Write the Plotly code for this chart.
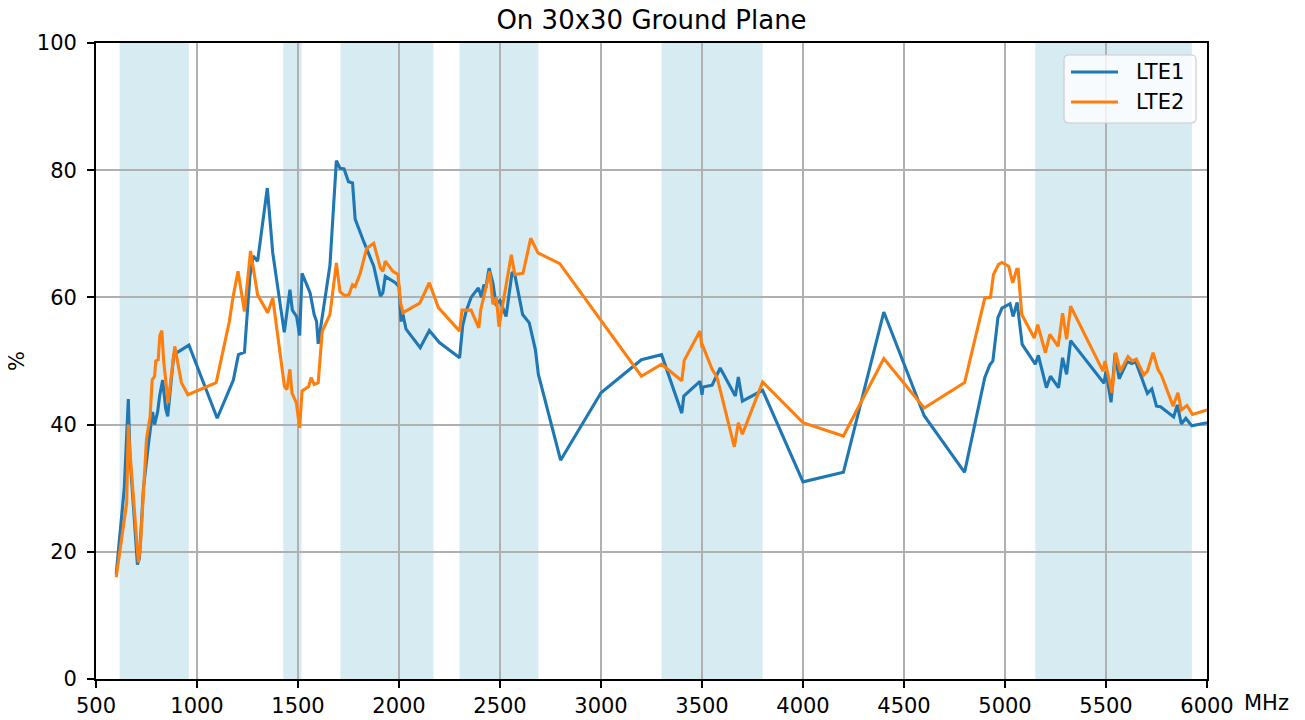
import plotly.graph_objects as go

# ---------------- data ----------------
lte1_freq = [600, 640, 660, 668, 690, 705, 715, 735, 760, 780, 790, 805, 815, 830, 845, 855, 885, 960,
             1100, 1180, 1205, 1235, 1262, 1278, 1300, 1348, 1375, 1432, 1460, 1472, 1493, 1508, 1520,
             1560, 1580, 1592, 1600, 1625, 1658, 1690, 1708, 1728, 1750, 1770, 1783, 1825, 1875, 1908,
             1920, 1932, 1982, 2000, 2010, 2015, 2035, 2105, 2150, 2200, 2300, 2315, 2332, 2357, 2393,
             2408, 2420, 2430, 2446, 2465, 2480, 2500, 2530, 2560, 2575, 2612, 2645, 2675, 2690, 2800,
             3000, 3200, 3300, 3400, 3410, 3490, 3500, 3505, 3550, 3590, 3665, 3680, 3700, 3800, 4000,
             4200, 4400, 4600, 4800, 4900, 4925, 4940, 4965, 4985, 5025, 5040, 5060, 5085, 5150, 5165,
             5205, 5225, 5265, 5285, 5305, 5325, 5490, 5500, 5525, 5545, 5565, 5605, 5628, 5647, 5705,
             5727, 5750, 5770, 5835, 5853, 5873, 5895, 5925, 6000]
lte1_eff = [16.5, 30, 44, 35, 25, 18, 19, 30, 37, 42, 40, 42, 44.5, 47, 42.5, 41.3, 51, 52.5,
            41, 47, 51, 51.4, 63.3, 66.5, 65.7, 77.2, 67, 54.5, 61.2, 58, 57, 54, 63.8,
            60.7, 57.3, 56.2, 52.7, 58, 65, 81.5, 80.3, 80.2, 78.2, 78, 72.3, 68.8, 64.9, 60.2,
            60.7, 63.3, 62.3, 61.7, 56.2, 58, 55, 52.1, 54.8, 52.9, 50.5, 55.5, 57.8, 60, 61.5,
            60, 62, 61.5, 64.6, 62.2, 59, 59.5, 57, 64, 63.3, 57.3, 56, 51.8, 47.9, 34.4,
            45, 50.2, 51, 41.8, 44.5, 46.8, 44.7, 45.9, 46.2, 48.9, 44.5, 47.5, 43.7, 45.4, 31,
            32.5, 57.7, 41.4, 32.5, 47.4, 49.4, 50, 56.8, 58.3, 59, 57, 59.2, 52.6, 49.5, 50.9,
            45.8, 47.6, 45.8, 50.5, 47.9, 53.2, 46.5, 48.4, 43.5, 51.2, 47.2, 49.9, 49.6, 49.9, 44.9,
            45.6, 42.9, 42.8, 41.2, 43.1, 40.1, 41, 39.8, 40.3]

lte2_freq = [600, 652, 660, 665, 710, 720, 750, 768, 778, 790, 796, 808, 816, 826, 835, 857, 890, 923,
             955, 1095, 1160, 1178, 1203, 1235, 1265, 1300, 1350, 1375, 1433, 1445, 1460, 1470, 1492,
             1508, 1520, 1553, 1565, 1580, 1600, 1620, 1658, 1690, 1708, 1730, 1752, 1770, 1783, 1808,
             1840, 1875, 1908, 1920, 1932, 1970, 1995, 2008, 2020, 2103, 2150, 2195, 2300, 2312, 2357,
             2395, 2405, 2449, 2465, 2482, 2495, 2556, 2573, 2614, 2652, 2688, 2796, 3200, 3300, 3400,
             3412, 3490, 3500, 3505, 3550, 3575, 3660, 3680, 3700, 3800, 4000, 4200, 4400, 4600, 4800,
             4900, 4928, 4943, 4968, 4985, 5018, 5038, 5058, 5065, 5083, 5145, 5162, 5200, 5222, 5263,
             5285, 5305, 5325, 5485, 5495, 5530, 5548, 5571, 5609, 5631, 5650, 5687, 5705, 5733, 5758,
             5774, 5832, 5856, 5873, 5901, 5928, 6000]
lte2_eff = [16, 27.7, 40, 37, 18.3, 21, 37.7, 41.3, 47, 47.6, 50, 50.2, 54, 54.8, 50, 43.4, 52.3, 46.6,
            44.7, 46.6, 56.2, 60, 64.1, 57.8, 67.3, 60.4, 57.6, 59.9, 46, 45.5, 48.7, 45, 43.4,
            39.5, 45.3, 46, 47.4, 46.3, 46.6, 54.7, 57.3, 65.4, 60.9, 60.3, 60.4, 62, 61.7, 63.8,
            67.7, 68.5, 64.6, 64.1, 65.7, 64.1, 63.6, 59.1, 57.6, 59.1, 62.3, 58.4, 54.7, 58, 58,
            55.2, 58.1, 64.1, 58.9, 60, 55.4, 66.7, 63.6, 63.8, 69.3, 67, 65.3, 47.6, 49.5, 46.9,
            50.1, 54.7, 52.1, 52.3, 48.7, 47.4, 36.5, 40.3, 38.5, 46.7, 40.3, 38.2, 50.4, 42.6, 46.6,
            59.9, 60, 63.6, 65.2, 65.5, 64.9, 62.3, 64.4, 64.4, 57.3, 53.6, 55.7, 51.3, 54.2, 52.3,
            57.5, 53.4, 58.6, 48.4, 50, 45, 51.3, 48.4, 50.7, 50, 50.3, 47.8, 48.4, 51.3, 48.6,
            47.8, 42.9, 45, 42.3, 43, 41.6, 42.3]

band_start = [617, 1427, 1710, 2300, 3300, 5150]
band_end = [960, 1518, 2170, 2690, 3800, 5925]

x_ticks = [500, 1000, 1500, 2000, 2500, 3000, 3500, 4000, 4500, 5000, 5500, 6000]
y_ticks = [0, 20, 40, 60, 80, 100]

series_names = ["LTE1", "LTE2"]
series_colors = ["#1f77b4", "#ff7f0e"]

# ---------------- figure ----------------
FONT = "DejaVu Sans"
W, H = 1297, 712
ML, MR, MT, MB = 88, 98, 35, 41

fig = go.Figure()
for name, color, xs, ys in zip(series_names, series_colors,
                               [lte1_freq, lte2_freq], [lte1_eff, lte2_eff]):
    fig.add_trace(go.Scatter(x=xs, y=ys, mode="lines", name=name,
                             line=dict(color=color, width=3.1), showlegend=False))

for s, e in zip(band_start, band_end):
    fig.add_shape(type="rect", xref="x", yref="paper", x0=s, x1=e, y0=0, y1=1,
                  fillcolor="rgba(173,216,230,0.5)", line_width=0, layer="below")

axis_common = dict(showline=True, linecolor="black", linewidth=1.7, mirror=True,
                   showgrid=True, gridcolor="#b0b0b0", gridwidth=1.7, zeroline=False,
                   ticks="outside", ticklen=7, tickwidth=1.7, tickcolor="black",
                   automargin=False,
                   tickfont=dict(family=FONT, size=21, color="black"))

fig.update_xaxes(range=[500, 6000], tickvals=x_ticks, ticklabelstandoff=0, **axis_common)
fig.update_yaxes(range=[0, 100], tickvals=y_ticks, ticklabelstandoff=6, **axis_common)

fig.add_annotation(text="MHz", xref="paper", yref="paper", x=1, y=0, xanchor="left",
                   yanchor="middle", xshift=35, yshift=-24, showarrow=False,
                   font=dict(family=FONT, size=21, color="black"))
fig.add_annotation(text="%", xref="paper", yref="paper", x=0, y=0.5, xanchor="center",
                   yanchor="middle", xshift=-79, textangle=-90, showarrow=False,
                   font=dict(family=FONT, size=21, color="black"))

# ---- matplotlib-style legend (box, line samples, labels) in plot-area pixels ----
pw = W - ML - MR
ph = H - MT - MB


def px(x):
    return x / pw


def py(y):
    return 1 - y / ph


bx0, bx1, by0, by1, r = 968, 1100, 12, 80, 5
path = (f"M {px(bx0 + r)},{py(by0)} L {px(bx1 - r)},{py(by0)} "
        f"Q {px(bx1)},{py(by0)} {px(bx1)},{py(by0 + r)} "
        f"L {px(bx1)},{py(by1 - r)} Q {px(bx1)},{py(by1)} {px(bx1 - r)},{py(by1)} "
        f"L {px(bx0 + r)},{py(by1)} Q {px(bx0)},{py(by1)} {px(bx0)},{py(by1 - r)} "
        f"L {px(bx0)},{py(by0 + r)} Q {px(bx0)},{py(by0)} {px(bx0 + r)},{py(by0)} Z")
fig.add_shape(type="path", path=path, xref="paper", yref="paper",
              fillcolor="rgba(255,255,255,0.8)", line=dict(color="#cccccc", width=1.2),
              layer="above")
for i, (name, color) in enumerate(zip(series_names, series_colors)):
    yy = 29 + 30 * i
    fig.add_shape(type="line", xref="paper", yref="paper", x0=px(975), x1=px(1022),
                  y0=py(yy), y1=py(yy), line=dict(color=color, width=3.1), layer="above")
    fig.add_annotation(text=name, xref="paper", yref="paper", x=px(1038), y=py(yy),
                       xanchor="left", yanchor="middle", showarrow=False,
                       font=dict(family=FONT, size=21, color="black"))

fig.update_layout(
    width=W, height=H,
    margin=dict(l=ML, r=MR, t=MT, b=MB, pad=0),
    paper_bgcolor="white", plot_bgcolor="white",
    title=dict(text="On 30x30 Ground Plane", x=0.5, xref="paper", xanchor="center",
               y=1 - 12 / H, yref="container", yanchor="middle",
               font=dict(family=FONT, size=26, color="black")),
    showlegend=False,
)

fig.write_html("out.html")
